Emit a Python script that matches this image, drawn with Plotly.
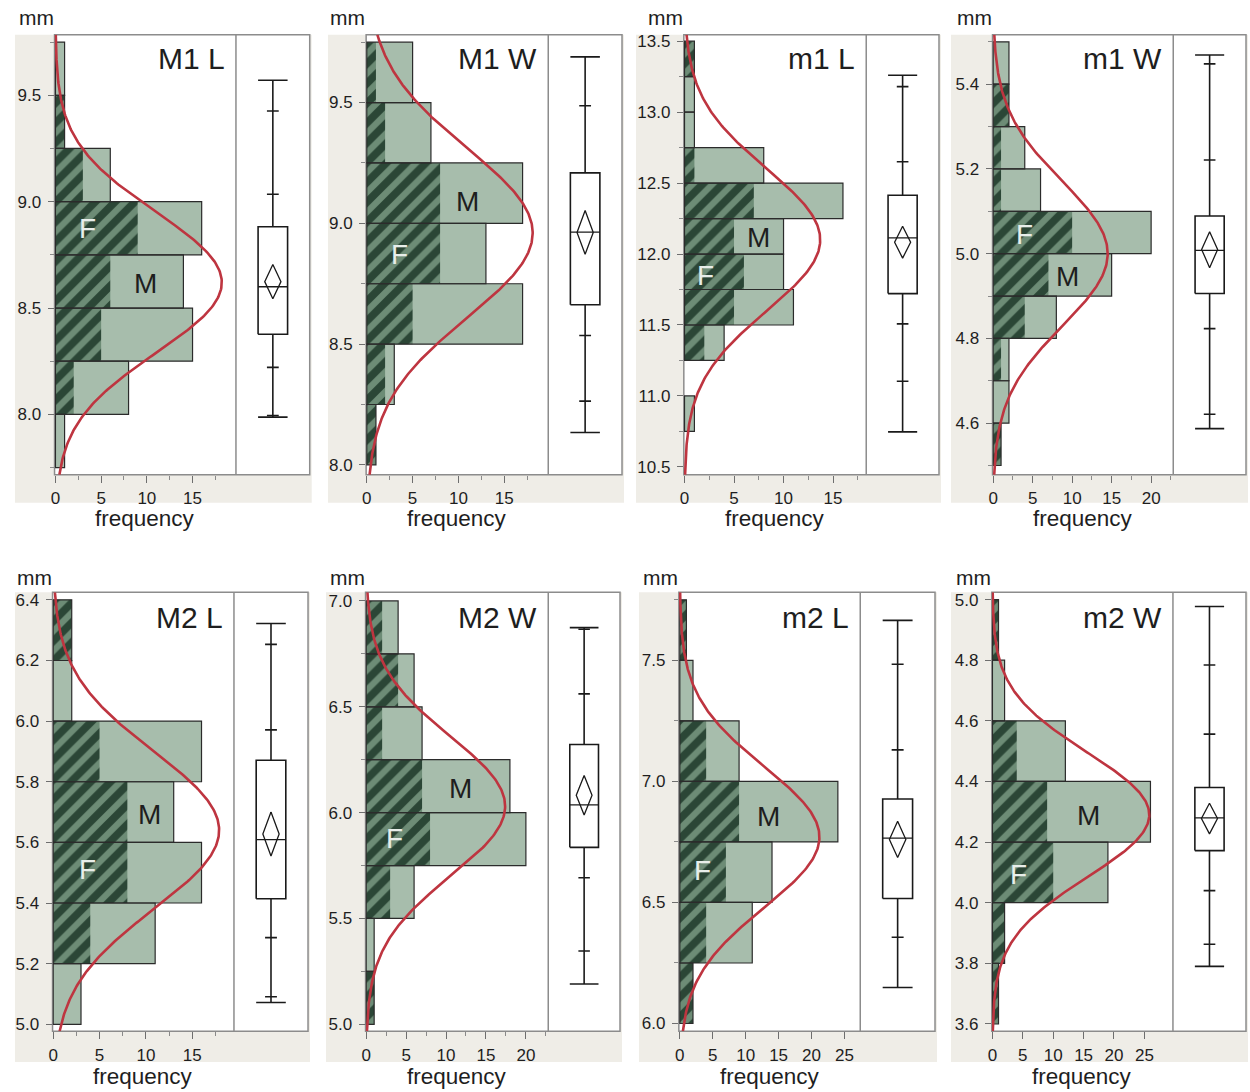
import numpy as np
import plotly.graph_objects as go

# ---------------- data ----------------
panel_titles = ["M1 L", "M1 W", "m1 L", "m1 W", "M2 L", "M2 W", "m2 L", "m2 W"]
bin_starts = [7.75, 8.0, 10.75, 4.5, 5.0, 5.0, 6.0, 3.6]
bin_widths = [0.25, 0.25, 0.25, 0.1, 0.2, 0.25, 0.25, 0.2]
total_counts = [
    [1, 8, 15, 14, 16, 6, 1, 1],
    [1, 3, 17, 13, 17, 7, 5],
    [1, 0, 4, 11, 10, 10, 16, 8, 1, 1, 1],
    [1, 2, 2, 8, 15, 20, 6, 4, 2, 2],
    [3, 11, 16, 13, 16, 2, 2],
    [1, 1, 6, 20, 18, 7, 6, 4],
    [2, 11, 14, 24, 9, 2, 1],
    [1, 2, 19, 26, 12, 2, 1],
]
female_counts = [
    [0, 2, 5, 6, 9, 3, 1, 0],
    [1, 2, 5, 8, 8, 2, 1],
    [0, 0, 2, 5, 6, 5, 7, 1, 0, 0, 1],
    [1, 0, 1, 4, 7, 10, 1, 1, 2, 0],
    [0, 4, 8, 8, 5, 0, 2],
    [1, 0, 3, 8, 7, 2, 4, 2],
    [2, 4, 7, 9, 4, 0, 1],
    [1, 2, 10, 9, 4, 0, 1],
]
# fitted normal curve parameters
curve_mean = [8.62, 8.96, 12.10, 5.00, 5.64, 6.03, 6.77, 4.29]
curve_sd = [0.33, 0.35, 0.50, 0.17, 0.26, 0.33, 0.29, 0.205]
curve_peak = [18.2, 18.1, 13.7, 14.5, 17.9, 17.4, 21.2, 25.8]
# box plot summaries
whisker_lo = [7.987, 8.134, 10.747, 4.587, 5.072, 5.190, 6.149, 3.790]
box_q1 = [8.377, 8.663, 11.721, 4.906, 5.414, 5.836, 6.516, 4.172]
box_median = [8.600, 8.964, 12.114, 5.008, 5.609, 6.037, 6.766, 4.280]
box_q3 = [8.882, 9.209, 12.414, 5.089, 5.871, 6.322, 6.927, 4.380]
whisker_hi = [9.571, 9.689, 13.260, 5.469, 6.322, 6.874, 7.665, 4.977]
quantile_ticks = [
    [9.426, 9.035, 8.221, 7.995],
    [9.487, 8.536, 8.264],
    [13.18, 12.65, 11.508, 11.103],
    [5.448, 5.221, 4.823, 4.621],
    [6.253, 5.971, 5.286, 5.091],
    [6.866, 6.561, 5.692, 5.346],
    [7.484, 7.130, 6.356],
    [4.784, 4.556, 4.040, 3.863],
]
mean_value = [8.624, 8.962, 12.083, 5.010, 5.628, 6.082, 6.760, 4.278]
mean_ci_lo = [8.544, 8.872, 11.971, 4.967, 5.555, 5.989, 6.686, 4.227]
mean_ci_hi = [8.705, 9.053, 12.196, 5.052, 5.700, 6.175, 6.835, 4.328]
# axis ticks
y_tick0 = [8.0, 8.0, 10.5, 4.6, 5.0, 5.0, 6.0, 3.6]
y_dtick = [0.5, 0.5, 0.5, 0.2, 0.2, 0.5, 0.5, 0.2]
y_minor_dtick = [0.25, 0.25, 0.25, 0.1, None, 0.25, 0.25, None]
x_dtick = [5, 5, 5, 5, 5, 5, 5, 5]
x_minor_dtick = [2.5, 2.5, 2.5, 2.5, 2.5, 2.5, None, None]

# ---------------- layout geometry (pixels) ----------------
W, H = 1250, 1092
frame_left = [50.7, 363.3, 682, 991.7, 48.7, 362.7, 677, 991]
frame_div = [232.7, 546, 865, 1173, 230.7, 546, 859, 1172.7]
frame_right = [306.7, 620, 938, 1246, 305, 618, 934, 1246]
row_top = [32.8, 593]
row_bottom = [475, 1034]
beige_left = [11, 325, 634, 950, 11, 323, 637, 950]
beige_bottom = [503, 1065]
title_y = [57, 618]
mm_y = [16, 578]
freq_y = [519, 1079]
y_ranges = [[7.716, 9.785], [7.959, 9.781], [10.444, 13.546], [4.478, 5.517],
            [4.977, 6.425], [4.967, 7.041], [5.968, 7.781], [3.576, 5.024]]
x_ranges = [[-0.1, 19.75], [-0.07, 19.8], [-0.07, 18.35], [-0.08, 22.8],
            [-0.07, 19.5], [-0.08, 22.8], [-0.15, 27.4], [-0.1, 29.7]]
F_pos = [(3.5, 8.874), (3.6, 8.872), (2.15, 11.85), (4.0, 5.046),
         (3.66, 5.509), (3.54, 5.876), (3.4, 6.63), (4.3, 4.094)]
M_pos = [(9.8, 8.616), (11.0, 9.09), (7.5, 12.116), (9.45, 4.945),
         (10.36, 5.692), (11.75, 6.116), (13.4, 6.854), (15.8, 4.289)]

FONT = "Liberation Sans, Arial, Helvetica, sans-serif"
LIGHT = "#A7BDAC"
DARK = "#2B4636"
STRIPE = "#6D8C76"
OUTLINE = "#2b2b2b"
RED = "#BE3540"
BEIGE = "#EFEDE7"
FRAME = "#8c8c8c"
TXT = "#1e1e1e"


def px(x):
    return x / W


def py(y):
    return 1 - y / H


def axname(kind, n):
    return kind + ("axis" if n == 1 else f"axis{n}")


def axref(kind, n):
    return kind if n == 1 else f"{kind}{n}"


fig = go.Figure()
shapes, annotations = [], []
layout = dict(width=W, height=H, margin=dict(l=0, r=0, t=0, b=0),
              paper_bgcolor="white", plot_bgcolor="rgba(0,0,0,0)",
              showlegend=False, barmode="overlay",
              font=dict(family=FONT, color=TXT))

for i in range(8):
    r = i // 4
    L, D, R = frame_left[i], frame_div[i], frame_right[i]
    top, bot = row_top[r], row_bottom[r]
    nh, nb, ny = 2 * i + 1, 2 * i + 2, i + 1
    xh, xb, yy = axref("x", nh), axref("x", nb), axref("y", ny)

    # axes
    xa = dict(domain=[px(L), px(D)], range=x_ranges[i], anchor=yy,
              tickmode="linear", tick0=0, dtick=x_dtick[i],
              ticks="outside", ticklen=7, tickwidth=1, tickcolor="#6e6e6e",
              showgrid=False, zeroline=False, showline=False,
              tickfont=dict(size=17, color=TXT, family=FONT), ticklabelstandoff=1)
    if x_minor_dtick[i]:
        xa["minor"] = dict(dtick=x_minor_dtick[i], ticks="outside", ticklen=4,
                           tickcolor="#8a8a8a", showgrid=False)
    layout[axname("x", nh)] = xa
    layout[axname("x", nb)] = dict(domain=[px(D), px(R)], range=[0, 1], anchor=yy,
                                   visible=False, fixedrange=True)
    ya = dict(domain=[py(bot), py(top)], range=y_ranges[i], anchor=xh,
              tickmode="linear", tick0=y_tick0[i], dtick=y_dtick[i], tickformat=".1f",
              ticks="outside", ticklen=6, tickwidth=1, tickcolor="#6e6e6e",
              showgrid=False, zeroline=False, showline=False,
              tickfont=dict(size=17, color=TXT, family=FONT), ticklabelstandoff=3)
    if y_minor_dtick[i]:
        ya["minor"] = dict(dtick=y_minor_dtick[i], ticks="outside", ticklen=4,
                           tickcolor="#8a8a8a", showgrid=False)
    layout[axname("y", ny)] = ya

    # background and frame
    shapes.append(dict(type="rect", xref="paper", yref="paper", layer="below",
                       x0=px(beige_left[i]), x1=px(R + 2), y0=py(beige_bottom[r]), y1=py(top),
                       fillcolor=BEIGE, line=dict(width=0)))
    shapes.append(dict(type="rect", xref="paper", yref="paper", layer="below",
                       x0=px(L), x1=px(R), y0=py(bot), y1=py(top),
                       fillcolor="white", line=dict(color=FRAME, width=1.5)))
    shapes.append(dict(type="line", xref="paper", yref="paper", layer="below",
                       x0=px(D), x1=px(D), y0=py(bot), y1=py(top),
                       line=dict(color=FRAME, width=1.5)))

    # histogram
    bw = bin_widths[i]
    centers = [bin_starts[i] + bw * (k + 0.5) for k in range(len(total_counts[i]))]
    tc = [(c, v) for c, v in zip(centers, total_counts[i]) if v > 0]
    fc = [(c, v) for c, v in zip(centers, female_counts[i]) if v > 0]
    fig.add_trace(go.Bar(orientation="h", y=[c for c, _ in tc], x=[v for _, v in tc],
                         width=bw, marker=dict(color=LIGHT, line=dict(width=0)),
                         xaxis=xh, yaxis=yy, hoverinfo="skip"))
    fig.add_trace(go.Bar(orientation="h", y=[c for c, _ in fc], x=[v for _, v in fc],
                         width=bw,
                         marker=dict(color=DARK, line=dict(width=0),
                                     pattern=dict(shape="/", bgcolor=DARK, fgcolor=STRIPE,
                                                  size=14, solidity=0.45, fillmode="replace")),
                         xaxis=xh, yaxis=yy, hoverinfo="skip"))
    fig.add_trace(go.Bar(orientation="h", y=[c for c, _ in tc], x=[v for _, v in tc],
                         width=bw, marker=dict(color="rgba(0,0,0,0)",
                                               line=dict(width=1.2, color=OUTLINE)),
                         xaxis=xh, yaxis=yy, hoverinfo="skip"))

    # fitted normal curve
    yc = np.linspace(y_ranges[i][0], y_ranges[i][1], 300)
    xc = curve_peak[i] * np.exp(-0.5 * ((yc - curve_mean[i]) / curve_sd[i]) ** 2)
    fig.add_trace(go.Scatter(x=xc, y=yc, mode="lines", line=dict(color=RED, width=2.6),
                             xaxis=xh, yaxis=yy, hoverinfo="skip"))

    # box plot
    bx0, bx1, cx = 0.3, 0.7, 0.5
    qx0, qx1 = 0.42, 0.58
    segx, segy = [cx, cx, None], [whisker_lo[i], whisker_hi[i], None]
    for v in (whisker_lo[i], whisker_hi[i]):
        segx += [bx0, bx1, None]
        segy += [v, v, None]
    for v in quantile_ticks[i]:
        segx += [qx0, qx1, None]
        segy += [v, v, None]
    fig.add_trace(go.Scatter(x=segx, y=segy, mode="lines",
                             line=dict(color="#1a1a1a", width=1.6),
                             xaxis=xb, yaxis=yy, hoverinfo="skip"))
    fig.add_trace(go.Scatter(x=[bx0, bx1, bx1, bx0, bx0],
                             y=[box_q1[i], box_q1[i], box_q3[i], box_q3[i], box_q1[i]],
                             mode="lines", fill="toself", fillcolor="white",
                             line=dict(color="#1a1a1a", width=1.6),
                             xaxis=xb, yaxis=yy, hoverinfo="skip"))
    fig.add_trace(go.Scatter(x=[bx0, bx1, None, cx, cx + 0.11, cx, cx - 0.11, cx],
                             y=[box_median[i], box_median[i], None,
                                mean_ci_hi[i], mean_value[i], mean_ci_lo[i], mean_value[i], mean_ci_hi[i]],
                             mode="lines", line=dict(color="#1a1a1a", width=1.3),
                             xaxis=xb, yaxis=yy, hoverinfo="skip"))

    # texts
    annotations.append(dict(text=panel_titles[i], xref="paper", yref="paper",
                            x=px(D - 9), y=py(title_y[r]), xanchor="right", yanchor="middle",
                            showarrow=False, font=dict(size=30, color=TXT, family=FONT)))
    annotations.append(dict(text="mm", xref="paper", yref="paper",
                            x=px(L + 1), y=py(mm_y[r]), xanchor="right", yanchor="middle",
                            showarrow=False, font=dict(size=21, color=TXT, family=FONT)))
    annotations.append(dict(text="frequency", xref="paper", yref="paper",
                            x=px((L + D) / 2), y=py(freq_y[r]), xanchor="center", yanchor="middle",
                            showarrow=False, font=dict(size=22.5, color=TXT, family=FONT)))
    annotations.append(dict(text="F", xref=xh, yref=yy, x=F_pos[i][0], y=F_pos[i][1],
                            showarrow=False, font=dict(size=28, color="#E8EEEA", family=FONT)))
    annotations.append(dict(text="M", xref=xh, yref=yy, x=M_pos[i][0], y=M_pos[i][1],
                            showarrow=False, font=dict(size=28, color=TXT, family=FONT)))

layout["shapes"] = shapes
layout["annotations"] = annotations
fig.update_layout(**layout)
fig.write_html("out.html", config={"displayModeBar": False},
               post_script="document.body.style.margin='0';document.body.style.overflow='hidden';")
